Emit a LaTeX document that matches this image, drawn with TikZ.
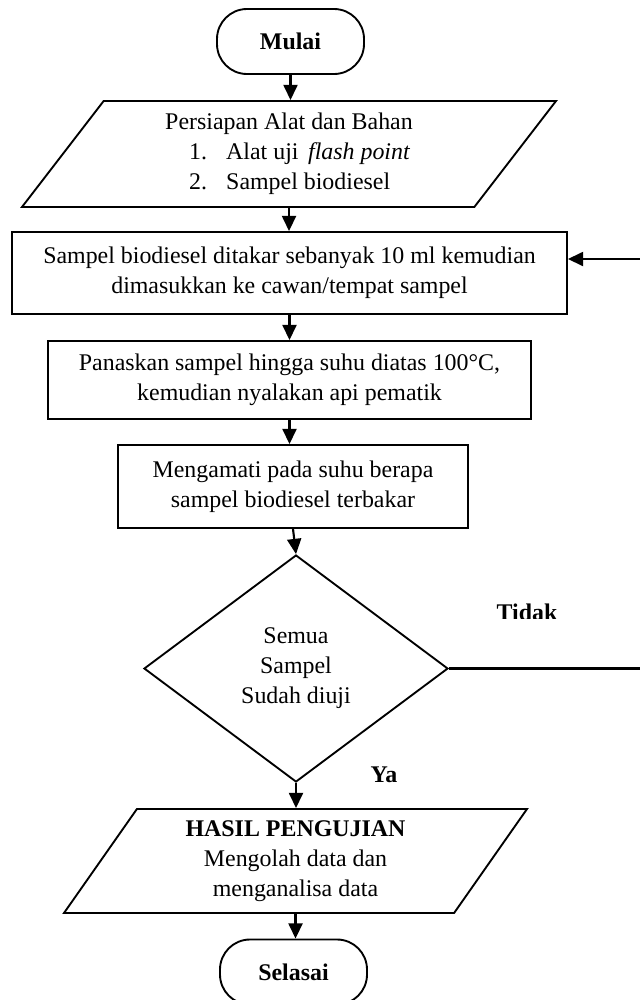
\documentclass[tikz,border=0pt]{standalone}
\usepackage{fontspec}
\setmainfont{Liberation Serif}
\usetikzlibrary{shapes.geometric,arrows.meta}
\newlength{\pxu}
\setlength{\pxu}{0.03cm}
\newcommand{\fsz}{\fontsize{20.4}{25.6}\selectfont}

\tikzset{
  kotak/.style={draw, line width=1.6pt, rectangle, inner sep=0pt, align=center, font=\fsz},
  terminal/.style={draw, line width=1.6pt, rectangle, rounded corners=30\pxu,
    minimum width=147\pxu, minimum height=65\pxu, inner sep=0pt, font=\fsz\bfseries},
  jajar/.style={draw, line width=1.6pt, trapezium, trapezium stretches body,
    inner sep=0pt, font=\fsz},
  keputusan/.style={draw, line width=1.6pt, diamond, aspect=1.34, inner sep=0pt,
    minimum width=304\pxu, minimum height=227\pxu, align=center, font=\fsz},
  ket/.style={inner sep=0pt, font=\fsz\bfseries},
  panah/.style={line width=1.8pt, -{Triangle[width=12pt,length=13pt]}}
}

\begin{document}
\begin{tikzpicture}[x=0.03cm, y=-0.03cm]
  \useasboundingbox (0,0) rectangle (640,1000);

  % langkah-langkah
  \node[terminal] (mulai) at (290.5,41.5) {Mulai};
  \node[jajar, align=left, minimum width=534\pxu, minimum height=106\pxu,
    trapezium left angle=45, trapezium right angle=135] (bahan) at (289,154)
    {Persiapan Alat dan Bahan\\
     \hspace*{24\pxu}\makebox[37\pxu][l]{1.}Alat uji\hspace{0.4em}\textit{flash point}\\
     \hspace*{24\pxu}\makebox[37\pxu][l]{2.}Sampel biodiesel};
  \node[kotak, minimum width=555\pxu, minimum height=82\pxu] (takar) at (289.5,273)
    {Sampel biodiesel ditakar sebanyak 10 ml kemudian\\dimasukkan ke cawan/tempat sampel};
  \node[kotak, minimum width=483\pxu, minimum height=78\pxu] (panas) at (289.5,380)
    {Panaskan sampel hingga suhu diatas 100°C,\\kemudian nyalakan api pematik};
  \node[kotak, minimum width=350\pxu, minimum height=83\pxu] (amati) at (293,486.5)
    {Mengamati pada suhu berapa\\sampel biodiesel terbakar};
  \node[keputusan] (cek) at (296,668.5) {Semua\\Sampel\\Sudah diuji};
  \node[jajar, align=center, minimum width=463\pxu, minimum height=104\pxu,
    trapezium left angle=48, trapezium right angle=132] (hasil) at (295.5,861)
    {\textbf{HASIL PENGUJIAN}\\Mengolah data dan\\menganalisa data};
  \node[terminal] (selesai) at (293.5,972) {Selasai};

  % keterangan
  \begin{scope}
    \clip (480,590) rectangle (580,618);
    \node[ket] (tidak) at (527,612) {Tidak};
  \end{scope}
  \node[ket] (ya) at (384,775) {Ya};

  % garis alir
  \draw[panah] (mulai.south) -- (mulai.south |- bahan.north);
  \draw[panah] (bahan.south) -- (bahan.south |- takar.north);
  \draw[panah] (takar.south) -- (takar.south |- panas.north);
  \draw[panah] (panas.south) -- (panas.south |- amati.north);
  \draw[panah] (amati.south) -- (cek.north);
  \draw[panah] (cek.south) -- (cek.south |- hasil.north);
  \draw[panah] (hasil.south) -- (hasil.south |- selesai.north);

  % kembali ke sampel berikutnya
  \coordinate (balik) at (670,259);
  \draw[panah] (cek.east) -| (balik) -- (takar.east |- balik);
\end{tikzpicture}
\end{document}
